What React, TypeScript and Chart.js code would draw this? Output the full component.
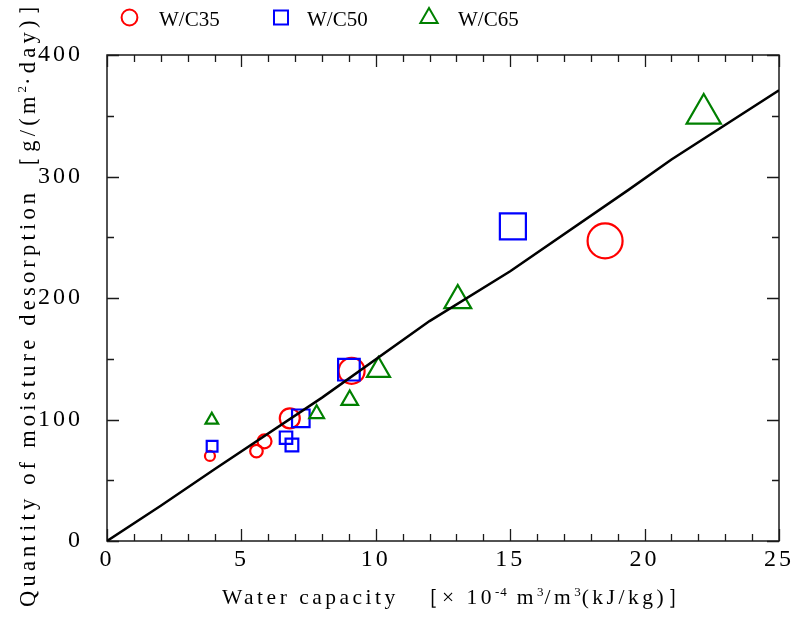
import React, { useEffect, useRef } from 'react';
import { Chart, registerables } from 'chart.js';
import { drawPoint } from 'chart.js/helpers';

Chart.register(...registerables);

// ---- data ----
const seriesNames = ['W/C35', 'W/C50', 'W/C65'];

const wc35X = [3.83, 5.56, 5.86, 6.8, 9.1, 18.53];
const wc35Y = [70, 74, 82, 101, 140, 247];

const wc50X = [3.91, 6.66, 6.88, 7.21, 9.0, 15.1];
const wc50Y = [78, 85, 79, 101, 141, 259];

const wc65X = [3.9, 7.8, 9.03, 10.1, 13.05, 22.2];
const wc65Y = [99.6, 104.7, 116, 140.5, 198, 351.6];

const fitX = [0, 2, 4, 8, 12, 15, 19.4, 21, 25];
const fitY = [0, 29, 59, 118, 181, 222, 289, 314, 371];

const xTickStep = 5;
const yTickStep = 100;
const xMinorStep = 1;
const yMinorStep = 50;

// axis titles as runs: [text, superscript?]
const xTitleRuns: [string, boolean][] = [
  ['Water capacity  ', false],
  ['［', false],
  ['× 10', false],
  ['-4', true],
  [' m', false],
  ['3', true],
  ['/m', false],
  ['3', true],
  ['(kJ/kg)］', false],
];
const yTitleRuns: [string, boolean][] = [
  ['Quantity of moisture desorption ', false],
  ['［', false],
  ['g/(m', false],
  ['2', true],
  ['·day)］', false],
];

// ---- styles (marker sizes) ----
const wc35Radius = [5, 6.3, 7, 10, 13, 17.5];
const wc50Radius = [7.6, 8.8, 9, 12.4, 15.3, 18.4];
const wc65Radius = [7.3, 8.5, 9.6, 13.3, 15.5, 19.8];

const RED = '#ff0000';
const BLUE = '#0000ff';
const GREEN = '#008000';
const FONT = '"Liberation Serif", "Times New Roman", serif';

const pts = (xs: number[], ys: number[]) => xs.map((x, i) => ({ x, y: ys[i] }));

function drawRuns(ctx: any, runs: [string, boolean][], size: number, spacing: number, supSize: number, supSpacing: number) {
  let x = 0;
  for (const [t, sup] of runs) {
    if (sup) {
      ctx.font = `${supSize}px ${FONT}`;
      ctx.letterSpacing = `${supSpacing}px`;
      ctx.fillText(t, x, -size * 0.38);
    } else {
      ctx.font = `${size}px ${FONT}`;
      ctx.letterSpacing = `${spacing}px`;
      ctx.fillText(t, x, 0);
    }
    x += ctx.measureText(t).width;
  }
}

const spacingPlugin = {
  id: 'spacing',
  beforeDraw(chart: any) {
    chart.ctx.letterSpacing = '3px';
  },
};

const framePlugin = {
  id: 'frame',
  beforeDatasetsDraw(chart: any) {
    const { ctx, chartArea } = chart;
    const { left, right, top, bottom } = chartArea;
    const xs = chart.scales.x;
    const ys = chart.scales.y;
    ctx.save();
    ctx.strokeStyle = '#1a1a1a';
    ctx.lineWidth = 1.5;
    ctx.strokeRect(left, top, right - left, bottom - top);
    ctx.lineWidth = 1.3;
    ctx.beginPath();
    for (let v = xs.min; v <= xs.max + 1e-9; v += xMinorStep) {
      const px = Math.round(xs.getPixelForValue(v)) + 0.5;
      const len = Math.abs(v % xTickStep) < 1e-9 ? 12 : 7;
      ctx.moveTo(px, bottom);
      ctx.lineTo(px, bottom - len);
      ctx.moveTo(px, top);
      ctx.lineTo(px, top + len);
    }
    for (let v = ys.min; v <= ys.max + 1e-9; v += yMinorStep) {
      const py = Math.round(ys.getPixelForValue(v)) + 0.5;
      const len = Math.abs(v % yTickStep) < 1e-9 ? 12 : 7;
      ctx.moveTo(left, py);
      ctx.lineTo(left + len, py);
      ctx.moveTo(right, py);
      ctx.lineTo(right - len, py);
    }
    ctx.stroke();
    ctx.restore();
  },
};

const textPlugin = {
  id: 'texts',
  afterDraw(chart: any) {
    const { ctx, chartArea } = chart;
    ctx.save();
    ctx.fillStyle = '#000';
    ctx.textBaseline = 'alphabetic';
    ctx.textAlign = 'left';
    // x title
    ctx.save();
    ctx.translate(chartArea.left + 115, chartArea.bottom + 63);
    drawRuns(ctx, xTitleRuns, 21.5, 3.5, 13, 1);
    ctx.restore();
    // y title
    ctx.save();
    ctx.translate(35, chartArea.bottom + 66);
    ctx.rotate(-Math.PI / 2);
    drawRuns(ctx, yTitleRuns, 22.5, 4.2, 13, 1);
    ctx.restore();

    // legend
    ctx.letterSpacing = '0px';
    ctx.font = `21px ${FONT}`;
    const items = [
      { name: seriesNames[0], style: 'circle', color: RED, r: 7.9, mx: 129.5, tx: 159 },
      { name: seriesNames[1], style: 'rect', color: BLUE, r: 9.9, mx: 281, tx: 307 },
      { name: seriesNames[2], style: 'triangle', color: GREEN, r: 10, mx: 429, tx: 458 },
    ];
    for (const it of items) {
      ctx.strokeStyle = it.color;
      ctx.fillStyle = 'rgba(0,0,0,0)';
      ctx.lineWidth = 2;
      drawPoint(ctx, { pointStyle: it.style as any, radius: it.r, borderWidth: 2, rotation: 0 }, it.mx, it.style === 'triangle' ? 18 : 17.5);
      ctx.fillStyle = '#000';
      ctx.fillText(it.name, it.tx, 26);
    }
    ctx.restore();
  },
};

export default function App() {
  const ref = useRef<HTMLCanvasElement>(null);
  useEffect(() => {
    const canvas = ref.current!;
    const chart = new Chart(canvas, {
      type: 'scatter',
      data: {
        datasets: [
          {
            type: 'line',
            label: 'fit',
            data: pts(fitX, fitY),
            borderColor: '#000',
            borderWidth: 2.5,
            pointRadius: 0,
            tension: 0,
            fill: false,
            order: 0,
          } as any,
          {
            label: seriesNames[2],
            data: pts(wc65X, wc65Y),
            pointStyle: 'triangle',
            pointRadius: wc65Radius,
            borderColor: GREEN,
            backgroundColor: 'rgba(0,0,0,0)',
            borderWidth: 2.2,
            order: 1,
          },
          {
            label: seriesNames[1],
            data: pts(wc50X, wc50Y),
            pointStyle: 'rect',
            pointRadius: wc50Radius,
            borderColor: BLUE,
            backgroundColor: 'rgba(0,0,0,0)',
            borderWidth: 2.2,
            order: 2,
          },
          {
            label: seriesNames[0],
            data: pts(wc35X, wc35Y),
            pointStyle: 'circle',
            pointRadius: wc35Radius,
            borderColor: RED,
            backgroundColor: 'rgba(0,0,0,0)',
            borderWidth: 2.2,
            order: 3,
          },
        ],
      },
      options: {
        responsive: true,
        maintainAspectRatio: false,
        animation: false,
        events: [],
        layout: { autoPadding: false, padding: { top: 55, right: 15, left: 0, bottom: 0 } },
        plugins: { legend: { display: false }, tooltip: { enabled: false } },
        scales: {
          x: {
            type: 'linear',
            min: 0,
            max: 25,
            position: 'bottom',
            ticks: {
              stepSize: xTickStep,
              autoSkip: false,
              maxRotation: 0,
              color: '#000',
              padding: -4,
              font: { family: FONT, size: 24 },
            },
            grid: { display: false },
            border: { display: false },
            afterFit: (s: any) => {
              s.height = 78;
              s.paddingLeft = 0;
              s.paddingRight = 0;
            },
          },
          y: {
            type: 'linear',
            min: 0,
            max: 400,
            ticks: {
              stepSize: yTickStep,
              autoSkip: false,
              color: '#000',
              padding: 16,
              font: { family: FONT, size: 24 },
            },
            grid: { display: false },
            border: { display: false },
            afterFit: (s: any) => {
              s.width = 107;
              s.paddingTop = 0;
              s.paddingBottom = 0;
            },
          },
        },
      },
      plugins: [spacingPlugin, framePlugin, textPlugin],
    } as any);
    return () => chart.destroy();
  }, []);
  return (
    <div style={{ position: 'fixed', left: 0, top: 0, width: 794, height: 619, background: '#fff' }}>
      <canvas ref={ref} />
    </div>
  );
}
